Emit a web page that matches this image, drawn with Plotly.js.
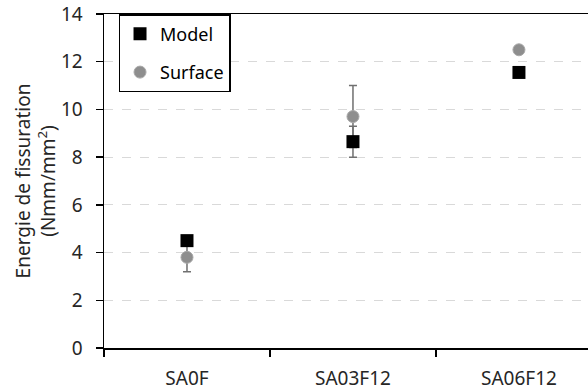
<!DOCTYPE html>
<html><head><meta charset="utf-8">
<script src="https://cdn.plot.ly/plotly-3.0.1.min.js"></script>
<style>html,body{margin:0;padding:0;background:#fff}#c{width:588px;height:391px}</style>
</head><body><div id="c"></div>
<script>
const categories = ["SA0F", "SA03F12", "SA06F12"];
const modelValues = [4.5, 8.65, 11.55];
const modelErrors = [0.1, 0.65, 0.1];
const surfaceValues = [3.8, 9.7, 12.5];
const surfaceErrors = [0.6, 1.3, 0.1];
const yTicks = [0, 2, 4, 6, 8, 10, 12, 14];

const font = "'Noto Sans', sans-serif";
const errColor = "#707070";
const txt = "#262626";

const traces = [
  {
    x: categories, y: surfaceValues, name: "Surface", type: "scatter", mode: "markers",
    marker: {symbol: "circle", size: 12, color: "#8e8e8e", line: {color: "#a8a8a8", width: 1}},
    error_y: {type: "data", array: surfaceErrors, visible: true, color: errColor, thickness: 1.5, width: 4},
    legendrank: 2, legendgroup: "s"
  },
  {
    x: categories, y: modelValues, name: "Model", type: "scatter", mode: "markers",
    marker: {symbol: "square", size: 13, color: "#000000"},
    error_y: {type: "data", array: modelErrors, visible: true, color: errColor, thickness: 1.5, width: 4},
    legendrank: 1, legendgroup: "m"
  }
];

const layout = {
  width: 588, height: 391,
  margin: {l: 104, r: 0, t: 14, b: 43},
  paper_bgcolor: "#fff", plot_bgcolor: "#fff",
  font: {family: font, size: 19, color: txt},
  showlegend: true,
  legend: {
    x: 0.03, y: 1, xanchor: "left", yanchor: "top",
    bordercolor: "#000", borderwidth: 1.5, bgcolor: "#fff",
    font: {family: font, size: 18, color: "#000"},
    traceorder: "grouped", tracegroupgap: 12,
    itemwidth: 30
  },
  xaxis: {
    type: "category", range: [-0.5, 2.416],
    tickson: "boundaries", ticks: "outside", ticklen: 7, tickwidth: 1.5, tickcolor: "#000",
    ticklabelstandoff: 13,
    showline: true, linecolor: "#000", linewidth: 1.5, mirror: true,
    showgrid: false, zeroline: false,
    tickfont: {family: font, size: 19, color: txt}
  },
  yaxis: {
    range: [0, 14], tickmode: "array", tickvals: yTicks, ticktext: yTicks.map(String),
    ticks: "outside", ticklen: 7, tickwidth: 1.5, tickcolor: "#000",
    ticklabelstandoff: 9,
    showline: true, linecolor: "#000", linewidth: 1.5,
    showgrid: true, gridcolor: "#d9d9d9", griddash: "dash", gridwidth: 1,
    zeroline: false,
    tickfont: {family: font, size: 19, color: txt},
    title: {text: "Energie de fissuration<br>(Nmm/mm<sup>2</sup>)", font: {family: font, size: 19, color: txt}, standoff: 0}
  }
};

Plotly.newPlot("c", traces, layout, {displayModeBar: false, staticPlot: true});
</script>
</body></html>
